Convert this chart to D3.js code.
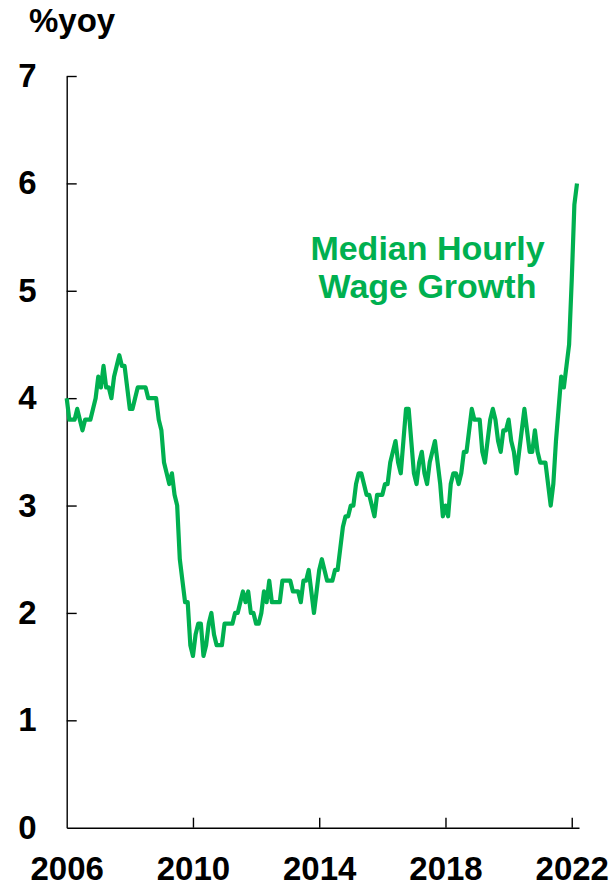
<!DOCTYPE html>
<html>
<head>
<meta charset="utf-8">
<script src="https://cdn.jsdelivr.net/npm/d3@7"></script>
<style>
    body { margin: 0; background: #fff; }
    svg text { font-family: "Liberation Sans", Arial, sans-serif; font-weight: bold; }
</style>
</head>
<body>
<svg id="chart" width="616" height="889"></svg>
<script>
// ===== 데이터 =====
// 중간값 시간당 임금 상승률 (%yoy, 월별, 2006년 1월부터)
const startYear = 2006;
const wageGrowth = [
    4.0, 3.8, 3.8, 3.8, 3.9, 3.8, 3.7, 3.8, 3.8, 3.8, 3.9, 4.0, // 2006
    4.2, 4.1, 4.3, 4.1, 4.1, 4.0, 4.2, 4.3, 4.4, 4.3, 4.3, 4.1, // 2007
    3.9, 3.9, 4.0, 4.1, 4.1, 4.1, 4.1, 4.0, 4.0, 4.0, 4.0, 3.8, // 2008
    3.7, 3.4, 3.3, 3.2, 3.3, 3.1, 3.0, 2.5, 2.3, 2.1, 2.1, 1.7, // 2009
    1.6, 1.8, 1.9, 1.9, 1.6, 1.7, 1.9, 2.0, 1.8, 1.7, 1.7, 1.7, // 2010
    1.9, 1.9, 1.9, 1.9, 2.0, 2.0, 2.1, 2.2, 2.1, 2.2, 2.0, 2.0, // 2011
    1.9, 1.9, 2.0, 2.2, 2.1, 2.3, 2.1, 2.1, 2.1, 2.1, 2.3, 2.3, // 2012
    2.3, 2.3, 2.2, 2.2, 2.2, 2.1, 2.3, 2.3, 2.4, 2.2, 2.0, 2.2, // 2013
    2.4, 2.5, 2.4, 2.3, 2.3, 2.3, 2.4, 2.4, 2.6, 2.8, 2.9, 2.9, // 2014
    3.0, 3.0, 3.2, 3.3, 3.3, 3.2, 3.1, 3.1, 3.0, 2.9, 3.1, 3.1, // 2015
    3.1, 3.2, 3.2, 3.4, 3.5, 3.6, 3.4, 3.3, 3.6, 3.9, 3.9, 3.6, // 2016
    3.3, 3.2, 3.4, 3.5, 3.3, 3.2, 3.4, 3.5, 3.6, 3.4, 3.2, 2.9, // 2017
    3.0, 2.9, 3.2, 3.3, 3.3, 3.2, 3.3, 3.5, 3.5, 3.7, 3.9, 3.8, // 2018
    3.8, 3.8, 3.5, 3.4, 3.6, 3.8, 3.9, 3.8, 3.6, 3.5, 3.7, 3.7, // 2019
    3.8, 3.6, 3.5, 3.3, 3.5, 3.7, 3.9, 3.7, 3.5, 3.5, 3.7, 3.5, // 2020
    3.4, 3.4, 3.4, 3.2, 3.0, 3.2, 3.6, 3.9, 4.2, 4.1, 4.3, 4.5, // 2021
    5.1, 5.8, 6.0                                               // 2022
];
const xTickYears = [2006, 2010, 2014, 2018, 2022];
const yTickValues = [0, 1, 2, 3, 4, 5, 6, 7];
const yAxisTitle = '%yoy';
const seriesLabel = ['Median Hourly', 'Wage Growth'];

// ===== 차트 설정 =====
const lineColor = '#00b050'; // 초록색
const svg = d3.select('#chart');

// x축: 연도(소수) -> 픽셀
const x = d3.scaleLinear()
    .domain([2006, 2022.23])
    .range([66.7, 579]);

// y축: % -> 픽셀
const y = d3.scaleLinear()
    .domain([0, 7])
    .range([827.7, 76]);

// 월별 데이터를 {연도, 값} 형태로 변환
const points = wageGrowth.map((v, i) => ({ t: startYear + i / 12, v: v }));

// ===== 축 그리기 =====
const xAxis = svg.append('g')
    .attr('transform', `translate(0,${y(0)})`)
    .call(d3.axisBottom(x)
        .tickValues(xTickYears)
        .tickFormat(d3.format('d'))
        .tickSizeInner(-10)
        .tickSizeOuter(0)
        .tickPadding(29));

const yAxis = svg.append('g')
    .attr('transform', `translate(${x(2006)},0)`)
    .call(d3.axisLeft(y)
        .tickValues(yTickValues)
        .tickFormat(d3.format('d'))
        .tickSizeInner(-10)
        .tickSizeOuter(0)
        .tickPadding(30));

// 축 스타일 (검은 선, 굵은 라벨)
[xAxis, yAxis].forEach(ax => {
    ax.select('.domain').attr('stroke', '#000').attr('stroke-width', 1.4);
    ax.selectAll('.tick line').attr('stroke', '#000').attr('stroke-width', 1.4);
    ax.selectAll('.tick text')
        .attr('fill', '#000')
        .style('font-size', '33px')
        .style('font-family', '"Liberation Sans", Arial, sans-serif')
        .style('font-weight', 'bold');
});
// 2006 눈금선은 y축과 겹치므로 숨김, y=0 눈금선도 숨김
xAxis.selectAll('.tick').filter(d => d === 2006).select('line').remove();
yAxis.selectAll('.tick').filter(d => d === 0).select('line').remove();

// y축 제목
svg.append('text')
    .attr('x', 29)
    .attr('y', 32)
    .attr('fill', '#000')
    .style('font-size', '33px')
    .text(yAxisTitle);

// ===== 선 그리기 =====
const line = d3.line()
    .x(d => x(d.t))
    .y(d => y(d.v));

svg.append('path')
    .datum(points)
    .attr('fill', 'none')
    .attr('stroke', lineColor)
    .attr('stroke-width', 4.2)
    .attr('stroke-linejoin', 'round')
    .attr('d', line);

// 시리즈 라벨 (차트 안쪽 주석)
svg.append('text')
    .attr('text-anchor', 'middle')
    .attr('fill', lineColor)
    .style('font-size', '34px')
    .selectAll('tspan')
    .data(seriesLabel)
    .join('tspan')
    .attr('x', 427.5)
    .attr('y', (d, i) => 260 + i * 38)
    .text(d => d);
</script>
</body>
</html>
